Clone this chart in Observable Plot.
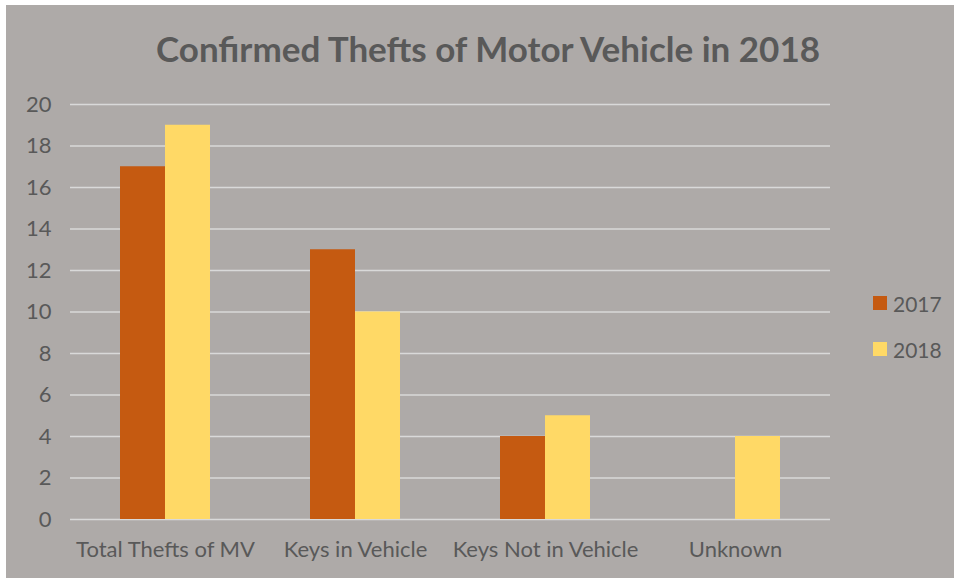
<!DOCTYPE html>
<html>
<head>
<meta charset="utf-8">
<script src="https://cdn.jsdelivr.net/npm/d3@7"></script>
<script src="https://cdn.jsdelivr.net/npm/@observablehq/plot@0.6"></script>
<style>
  html, body { margin: 0; padding: 0; background: #ffffff; }
  #frame {
    position: absolute; left: 6px; top: 5px; width: 948px; height: 573px;
    background: #aeaaa8; font-family: Lato, "Open Sans", sans-serif; color: #595959;
    overflow: hidden;
  }
  #title {
    position: absolute; left: 0; top: 22px; width: 964px; text-align: center;
    font-size: 35px; font-weight: bold; color: #595959; white-space: nowrap;
  }
  #chart { position: absolute; left: 0; top: 80px; }
  #legend { position: absolute; left: 867px; top: 275px; font-size: 21px; }
  .item { display: flex; align-items: center; height: 46px; }
  .sw { width: 14px; height: 14px; margin-right: 6px; }
</style>
</head>
<body>
<div id="frame">
  <div id="title">Confirmed Thefts of Motor Vehicle in 2018</div>
  <div id="chart"></div>
  <div id="legend"></div>
</div>
<script>
const categories = ["Total Thefts of MV", "Keys in Vehicle", "Keys Not in Vehicle", "Unknown"];
const series = ["2017", "2018"];
const values2017 = [17, 13, 4, 0];
const values2018 = [19, 10, 5, 4];
const yTicks = [0, 2, 4, 6, 8, 10, 12, 14, 16, 18, 20];
const colors = ["#c55a11", "#ffd966"];

const data = [];
categories.forEach((c, i) => {
  data.push({category: c, year: series[0], value: values2017[i]});
  data.push({category: c, year: series[1], value: values2018[i]});
});

const plot = Plot.plot({
  width: 948,
  height: 493,
  marginLeft: 64,
  marginRight: 124,
  marginTop: 19,
  marginBottom: 59,
  style: {background: "transparent", fontFamily: "Lato, 'Open Sans', sans-serif", fontSize: "22px", color: "#595959"},
  fx: {domain: categories, padding: 0, label: null, axis: null},
  x: {domain: series, paddingInner: 0, paddingOuter: 1.111, axis: null},
  y: {domain: [0, 20], ticks: yTicks, label: null, axis: null},
  color: {domain: series, range: colors},
  marks: [
    Plot.ruleY(yTicks, {stroke: "#d9d9d9", strokeWidth: 1.6}),
    Plot.barY(data, {fx: "category", x: "year", y: "value", fill: "year"}),
    Plot.axisY({anchor: "left", ticks: yTicks, tickSize: 0, tickPadding: 19, fontSize: 22, label: null}),
    Plot.axisFx({anchor: "bottom", tickSize: 0, tickPadding: 22, fontSize: 22, label: null})
  ]
});
document.getElementById("chart").appendChild(plot);

const legend = document.getElementById("legend");
series.forEach((s, i) => {
  const it = document.createElement("div");
  it.className = "item";
  it.innerHTML = `<div class="sw" style="background:${colors[i]}"></div><span>${s}</span>`;
  legend.appendChild(it);
});
</script>
</body>
</html>
